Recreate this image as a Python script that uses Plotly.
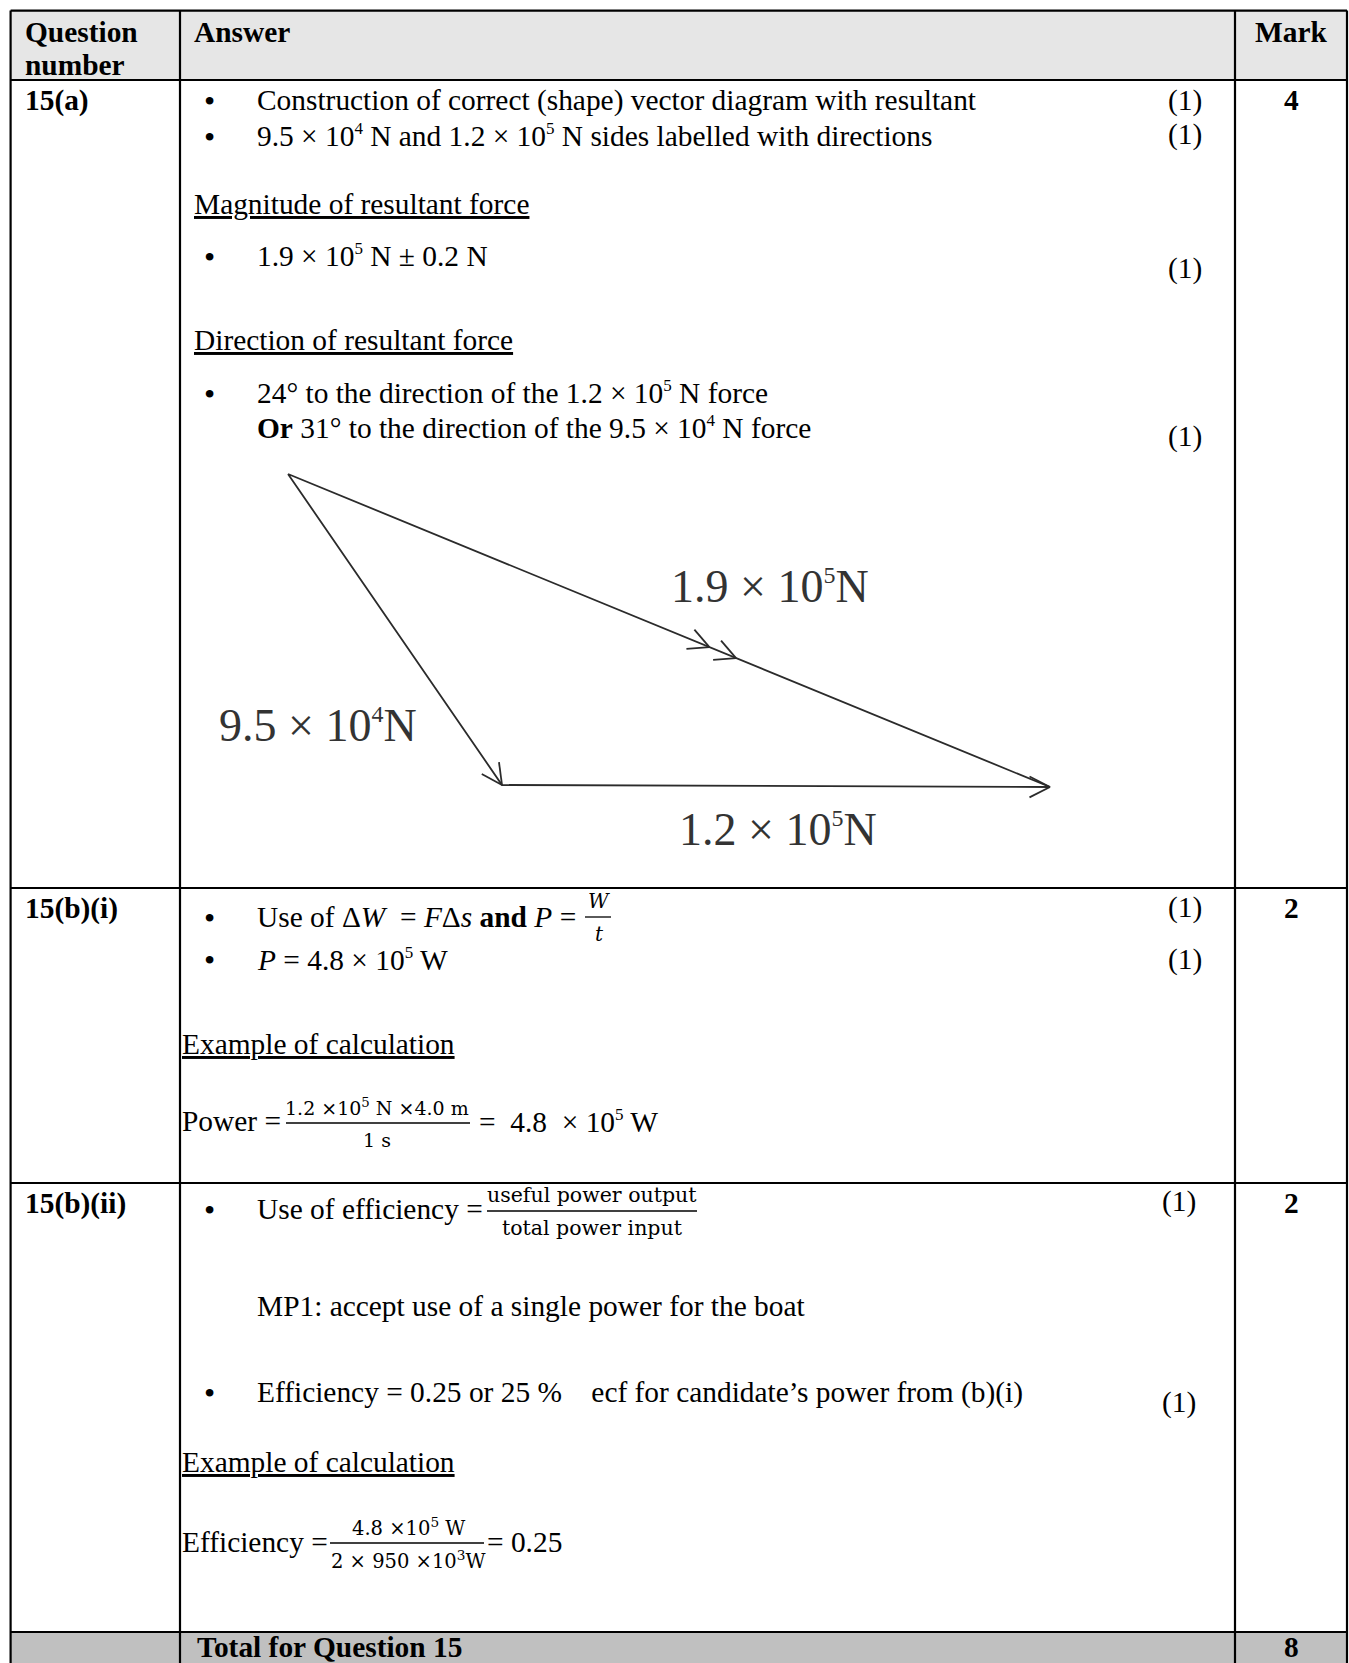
import math
import plotly.graph_objects as go

W, H = 1349, 1663

# ---------------- data (text content) ----------------
header_labels = ["Question", "number", "Answer", "Mark"]
question_ids = ["15(a)", "15(b)(i)", "15(b)(ii)"]
question_marks = ["4", "2", "2"]
total_label = "Total for Question 15"
total_mark = "8"


def sup(s, px=17):
    return "<sup><span style='font-size:%dpx'>%s</span></sup>" % (px, s)


bullets_a = [
    "Construction of correct (shape) vector diagram with resultant",
    "9.5 × 10" + sup("4") + " N and 1.2 × 10" + sup("5") + " N sides labelled with directions",
    "1.9 × 10" + sup("5") + " N ± 0.2 N",
    "24° to the direction of the 1.2 × 10" + sup("5") + " N force",
]
or_line_a = "<b>Or</b> 31° to the direction of the 9.5 × 10" + sup("4") + " N force"
headings_a = ["Magnitude of resultant force", "Direction of resultant force"]
marks_a = ["(1)", "(1)", "(1)", "(1)"]

bullets_bi = [
    "Use of Δ<i>W</i>  = <i>F</i>Δ<i>s</i> <b>and</b> <i>P</i> =",
    "<i>P</i> = 4.8 × 10" + sup("5") + " W",
]
frac_bi = ["<i>W</i>", "<i>t</i>"]
marks_bi = ["(1)", "(1)"]
example_label = "Example of calculation"
power_lhs = "Power ="
power_frac = ["1.2 ×10<sup>5</sup> N ×4.0 m", "1 s"]
power_rhs = "=  4.8  × 10" + sup("5") + " W"

bullets_bii = [
    "Use of efficiency =",
    "Efficiency = 0.25 or 25 %    ecf for candidate’s power from (b)(i)",
]
frac_bii = ["useful power output", "total power input"]
note_bii = "MP1: accept use of a single power for the boat"
marks_bii = ["(1)", "(1)"]
eff_lhs = "Efficiency ="
eff_frac = ["4.8 ×10<sup>5</sup> W", "2 × 950 ×10<sup>3</sup>W"]
eff_rhs = "= 0.25"

# vector diagram (points of the drawn triangle)
force_labels = ["9.5 × 10" + sup("4", 24) + "N",
                "1.2 × 10" + sup("5", 24) + "N",
                "1.9 × 10" + sup("5", 24) + "N"]
tri_x = [288, 502, 1050]   # A (start), B (tip of 9.5e4), C (tip of 1.2e5)
tri_y = [474, 785, 787]
mid_arrow_frac = [0.553, 0.588]  # positions of the double chevron along A->C

# ---------------- styling ----------------
SERIF = "Liberation Serif"
MATH = "DejaVu Serif"
FS = 29.4
LINE = "#000000"
DIAG = "#2b2b2b"

col_x = [10.6, 180, 1235, 1347]
row_y = [10.6, 80, 888, 1183, 1632, H + 2]

fig = go.Figure()
shapes = []
ann = []


def txt(x, y, text, size=FS, bold=False, xanchor="left", family=SERIF,
        color="black", underline=False):
    font = dict(family=family, size=size, color=color)
    if bold:
        font["weight"] = "bold"
    if underline:
        font["lineposition"] = "under"
    ann.append(dict(x=x, y=y, xref="x", yref="y", text=text, showarrow=False,
                    xanchor=xanchor, yanchor="middle", align="left", font=font,
                    borderpad=0))


def bullet(y):
    ann.append(dict(x=209, y=y, xref="x", yref="y", text="•", showarrow=False,
                    xanchor="center", yanchor="middle",
                    font=dict(family=SERIF, size=32, color="black")))


def frac(xc, y_line, x0, x1, num, den, size=19, family=MATH, gap=15):
    txt(xc, y_line - gap, num, size=size, xanchor="center", family=family)
    txt(xc, y_line + gap + 1, den, size=size, xanchor="center", family=family)
    shapes.append(dict(type="line", x0=x0, x1=x1, y0=y_line, y1=y_line,
                       xref="x", yref="y", line=dict(color="black", width=1.3)))


# backgrounds
shapes.append(dict(type="rect", x0=col_x[0], x1=col_x[-1], y0=row_y[0], y1=row_y[1],
                   xref="x", yref="y", fillcolor="#e6e6e6", line=dict(width=0), layer="below"))
shapes.append(dict(type="rect", x0=col_x[0], x1=col_x[-1], y0=row_y[4], y1=row_y[5],
                   xref="x", yref="y", fillcolor="#c0c0c0", line=dict(width=0), layer="below"))
# grid lines
for cx in col_x:
    shapes.append(dict(type="line", x0=cx, x1=cx, y0=row_y[0], y1=row_y[-1],
                       xref="x", yref="y", line=dict(color=LINE, width=2.2)))
for ry in row_y[:-1]:
    shapes.append(dict(type="line", x0=col_x[0], x1=col_x[-1], y0=ry, y1=ry,
                       xref="x", yref="y", line=dict(color=LINE, width=2.2)))

# header
txt(24, 32, header_labels[0], bold=True)
txt(24, 65, header_labels[1], bold=True)
txt(193, 32, header_labels[2], bold=True)
txt((col_x[2] + col_x[3]) / 2, 32, header_labels[3], bold=True, xanchor="center")

# question ids & marks
q_y = [100, 908, 1203]
MARK_X = (col_x[2] + col_x[3]) / 2
for q, m, y in zip(question_ids, question_marks, q_y):
    txt(24, y, q, bold=True)
    txt(MARK_X, y, m, bold=True, xanchor="center")
txt(196, 1647, total_label, bold=True)
txt(MARK_X, 1647, total_mark, bold=True, xanchor="center")

TX = 256
# ---- 15(a)
bullet(101); txt(TX, 100, bullets_a[0])
bullet(137); txt(TX, 135, bullets_a[1])
txt(193, 204, headings_a[0], underline=True)
bullet(257); txt(TX, 255, bullets_a[2])
txt(193, 340, headings_a[1], underline=True)
bullet(394); txt(TX, 392, bullets_a[3])
txt(TX, 427, or_line_a)
for m, y in zip(marks_a, [100, 134, 268, 436]):
    txt(1185, y, m, xanchor="center")

# vector diagram lines
fig.add_trace(go.Scatter(x=[tri_x[0], tri_x[1], tri_x[2], tri_x[0]],
                         y=[tri_y[0], tri_y[1], tri_y[2], tri_y[0]],
                         mode="lines", line=dict(color=DIAG, width=1.8),
                         hoverinfo="skip", showlegend=False))


def chevron(tx, ty, fx, fy, half=27, length=23):
    ang = math.atan2(fy - ty, fx - tx)  # backward direction
    xs, ys = [], []
    for s in (-1, 1):
        a = ang + s * math.radians(half)
        xs += [tx + length * math.cos(a), tx, None]
        ys += [ty + length * math.sin(a), ty, None]
    return xs, ys


cx, cy = [], []
for (t, f) in [((tri_x[1], tri_y[1]), (tri_x[0], tri_y[0])),
               ((tri_x[2], tri_y[2]), (tri_x[1], tri_y[1]))]:
    a, b = chevron(t[0], t[1], f[0], f[1])
    cx += a; cy += b
for fr in mid_arrow_frac:
    px = tri_x[0] + fr * (tri_x[2] - tri_x[0])
    py = tri_y[0] + fr * (tri_y[2] - tri_y[0])
    a, b = chevron(px, py, tri_x[0], tri_y[0])
    cx += a; cy += b
fig.add_trace(go.Scatter(x=cx, y=cy, mode="lines", line=dict(color=DIAG, width=1.8),
                         hoverinfo="skip", showlegend=False))

LBL = 46
txt(318, 725, force_labels[0], size=LBL, xanchor="center", color="#333333")
txt(778, 829, force_labels[1], size=LBL, xanchor="center", color="#333333")
txt(770, 586, force_labels[2], size=LBL, xanchor="center", color="#333333")

# ---- 15(b)(i)
bullet(918); txt(TX, 917, bullets_bi[0])
frac(599, 917, 585, 611, frac_bi[0], frac_bi[1], size=20, gap=16)
bullet(960); txt(TX, 959, bullets_bi[1])
for m, y in zip(marks_bi, [907, 959]):
    txt(1185, y, m, xanchor="center")
txt(181, 1044, example_label, underline=True)
txt(181, 1121, power_lhs)
frac(377, 1123, 286, 470, power_frac[0], power_frac[1], size=19, gap=16)
txt(478, 1121, power_rhs)

# ---- 15(b)(ii)
bullet(1210); txt(TX, 1209, bullets_bii[0])
frac(592, 1211, 487, 697, frac_bii[0], frac_bii[1], size=20.5, gap=16)
txt(TX, 1306, note_bii)
bullet(1393); txt(TX, 1392, bullets_bii[1])
for m, y in zip(marks_bii, [1201, 1402]):
    txt(1179, y, m, xanchor="center")
txt(181, 1462, example_label, underline=True)
txt(181, 1542, eff_lhs)
frac(408, 1543, 330, 484, eff_frac[0], eff_frac[1], size=19.5, gap=16)
txt(486, 1542, eff_rhs)

fig.update_layout(
    width=W, height=H,
    margin=dict(l=0, r=0, t=0, b=0),
    paper_bgcolor="white", plot_bgcolor="white",
    xaxis=dict(range=[0, W], visible=False, fixedrange=True),
    yaxis=dict(range=[H, 0], visible=False, fixedrange=True),
    shapes=shapes, annotations=ann, showlegend=False,
)
# remove the default page margin so the figure starts at the page origin
fig.write_html("out.html",
               config={"displayModeBar": False},
               post_script="document.body.style.margin='0px';"
                           "document.body.style.overflow='hidden';")
